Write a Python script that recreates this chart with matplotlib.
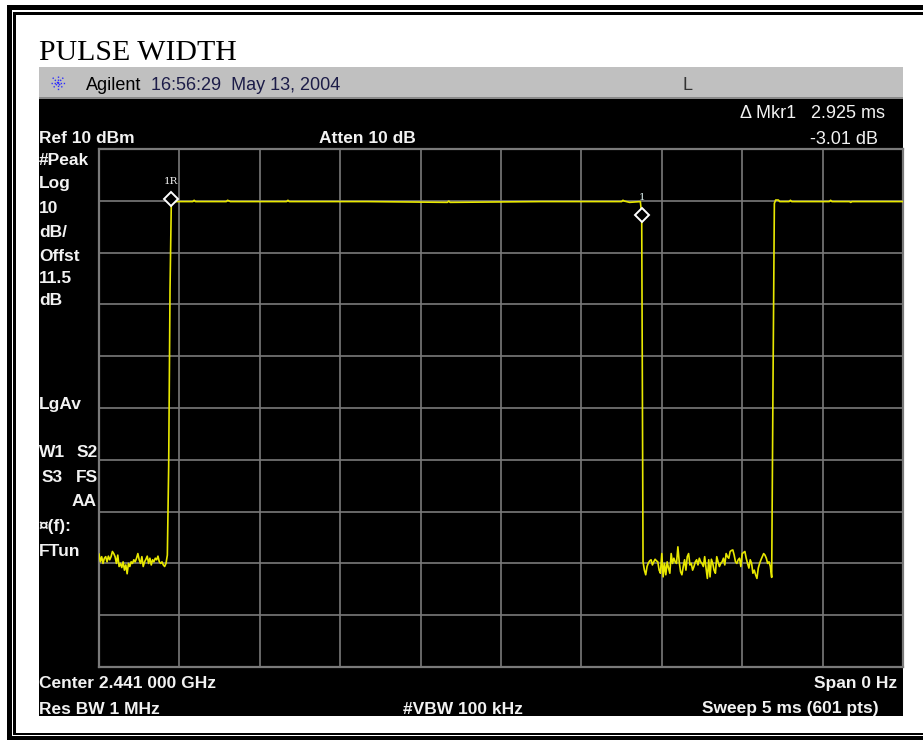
import numpy as np
import matplotlib.pyplot as plt
from matplotlib.patches import Rectangle

plt.rcParams.update({
    "font.family": "Liberation Sans",
})

#%% Instrument settings
sweep_ms = 5.0
n_pts = 601
ref_dbm = 10.0
db_per_div = 10.0
mkr_delta_db = -3.01

#%% Trace data (dBm)
# noise floor ahead of the first burst, samples 0..51
noise_a = [-68.2, -69.7, -68.7, -70.0, -69.0, -68.7, -69.7, -68.6, -69.3, -68.7,
           -67.7, -68.1, -68.7, -70.0, -68.4, -70.6, -70.0, -70.8, -69.7, -71.3,
           -70.3, -72.0, -70.0, -70.6, -69.7, -70.0, -69.3, -69.7, -69.0, -68.1,
           -69.3, -70.0, -68.7, -70.6, -69.7, -69.2, -68.6, -70.0, -69.0, -70.3,
           -69.3, -69.7, -69.0, -69.3, -68.6, -69.7, -70.0, -69.7, -70.3, -70.6,
           -70.0, -68.4]
rise_a_idx = [52, 53]
rise_a_dbm = [-51.2, -17.2]

# burst plateau (sparse vertices, trace is flat in between)
plat_a_idx = [54, 55, 70, 71, 72, 95, 96, 98, 140, 141, 142, 200,
              260, 261, 262, 330, 390, 391, 392, 396, 404]
plat_a_dbm = [0.3, -0.15, -0.15, 0.1, -0.15, -0.15, 0.1, -0.15, -0.15, 0.1, -0.15, -0.15,
              -0.3, -0.05, -0.3, -0.15, -0.15, 0.1, -0.05, -0.3, -0.15]

mkr1r_idx = 54
mkr1_idx = 405

# noise floor between bursts, samples 406..502
noise_b = [-69.7, -71.3, -72.2, -70.6, -69.9, -69.5, -69.3, -70.3, -69.7, -69.2,
           -69.5, -69.7, -71.3, -71.9, -68.1, -72.6, -70.0, -72.2, -69.7, -70.9,
           -71.9, -68.1, -70.0, -69.0, -69.7, -70.0, -66.8, -69.7, -71.6, -72.2,
           -70.6, -69.3, -71.3, -68.7, -68.1, -70.3, -70.0, -71.3, -70.6, -69.7,
           -69.3, -70.3, -69.0, -69.7, -70.0, -70.6, -68.7, -70.9, -72.9, -69.3,
           -72.6, -69.2, -70.0, -71.3, -71.9, -68.7, -69.7, -70.6, -70.0, -69.7,
           -69.0, -70.3, -68.1, -68.7, -69.0, -67.7, -67.5, -67.4, -68.4, -69.7,
           -70.0, -69.3, -69.0, -70.6, -68.1, -67.9, -67.7, -69.0, -70.0, -70.9,
           -69.3, -70.0, -71.9, -71.3, -72.2, -72.9, -70.9, -70.0, -69.3, -68.7,
           -68.1, -68.4, -69.0, -70.0, -69.7, -70.6, -72.7]
rise_b_idx = [503, 504]
rise_b_dbm = [-35.0, -0.5]

plat_b_idx = [505, 507, 508, 515, 516, 517, 545, 546, 547,
              560, 561, 562, 580, 600]
plat_b_dbm = [0.15, 0.15, -0.15, -0.15, 0.1, -0.15, -0.15, 0.1, -0.15,
              -0.15, -0.3, -0.15, -0.15, -0.15]

#%% Assemble trace
mkr1r_dbm = plat_a_dbm[plat_a_idx.index(mkr1r_idx)]
mkr1_dbm = mkr1r_dbm + mkr_delta_db

idx = (list(range(0, len(noise_a))) + rise_a_idx + plat_a_idx + [mkr1_idx]
       + list(range(406, 406 + len(noise_b))) + rise_b_idx + plat_b_idx)
lvl = noise_a + rise_a_dbm + plat_a_dbm + [mkr1_dbm] + noise_b + rise_b_dbm + plat_b_dbm

dt = sweep_ms / (n_pts - 1)
t = np.array(idx) * dt
lvl = np.array(lvl)
t_1r = mkr1r_idx * dt
t_1 = mkr1_idx * dt

#%% Figure
W, H = 923, 740
fig = plt.figure(figsize=(W / 100, H / 100), dpi=100)
fig.patch.set_facecolor("white")

# pixel-space layer for frame, panel and annotations
bg = fig.add_axes([0, 0, 1, 1])
bg.set_xlim(0, W)
bg.set_ylim(H, 0)
bg.axis("off")

# double border
for (x, y, w, h) in [(7, 5, W - 7, 5), (13, 12, W - 13, 3),
                     (7, 5, 5, 733), (13, 12, 2.5, 722),
                     (13, 732.5, W - 13, 2), (7, 736, W - 7, 4)]:
    bg.add_patch(Rectangle((x, y), w, h, color="black", lw=0))

bg.text(39, 60, "PULSE WIDTH", family="Liberation Serif", fontsize=21.5,
        color="black", va="baseline")

# header bar and screen
bg.add_patch(Rectangle((39, 67), 864, 31, color="#c0c0c0", lw=0))
bg.add_patch(Rectangle((39, 97), 864, 1.5, color="#8a8a8a", lw=0))
bg.add_patch(Rectangle((39, 98.5), 864, 617.5, color="black", lw=0))

# agilent spark logo
cx, cy = 58, 83
for a in np.arange(0, np.pi, np.pi / 4):
    dx, dy = 7.5 * np.cos(a), 7.5 * np.sin(a)
    bg.plot([cx - dx, cx + dx], [cy - dy, cy + dy], color="#2b2bff", lw=1.0, ls=(0, (1, 1.2)))
bg.text(86, 90, "Agilent", fontsize=13, color="black", va="baseline")
bg.text(151, 90, "16:56:29  May 13, 2004", fontsize=13, color="#1c1c48", va="baseline")
bg.text(687, 90, "L", fontsize=13, color="#333333", va="baseline", ha="center")

fg = "#f2f2f2"
bold = dict(fontsize=12.5, fontweight="bold", color=fg, va="baseline")
reg = dict(fontsize=13, color=fg, va="baseline")

bg.text(39, 143, "Ref 10 dBm", **bold)
bg.text(319, 143, "Atten 10 dB", **bold)
bg.text(740, 118, "\u0394 Mkr1", **reg)
bg.text(885, 118, f"{(mkr1_idx - mkr1r_idx) * dt:.3f} ms", ha="right", **reg)
bg.text(878, 144, f"{mkr_delta_db:.2f} dB", ha="right", **reg)

side = [(39, 165, "#Peak"), (39, 188, "Log"), (39, 213, "10"), (39, 237, "dB/"),
        (39, 261, "Offst"), (39, 283, "11.5"), (39, 305, "dB"), (39, 409.5, "LgAv"),
        (39, 457, "W1"), (76.7, 457, "S2"), (41.7, 481.5, "S3"), (75.7, 481.5, "FS"),
        (39, 531.5, "\u00a4(f):"), (39, 555.5, "FTun")]
for x, y, s in side:
    bg.text(x, y, s, **bold)
bg.text(97, 506.5, "AA", ha="right", **bold)

bg.text(39, 688, "Center 2.441 000 GHz", **bold)
bg.text(897, 688, "Span 0 Hz", ha="right", **bold)
bg.text(39, 713.5, "Res BW 1 MHz", **bold)
bg.text(403, 713.5, "#VBW 100 kHz", **bold)
bg.text(879, 713.5, "Sweep 5 ms (601 pts)", ha="right", **bold)

#%% Graticule and trace
ax = fig.add_axes([99 / W, 1 - 667 / H, 804 / W, 518 / H])
ax.set_facecolor("black")
ax.set_xlim(0, sweep_ms)
ax.set_ylim(ref_dbm - 10 * db_per_div, ref_dbm)
ax.set_xticks(np.arange(0, sweep_ms + 0.01, sweep_ms / 10))
ax.set_yticks(np.arange(ref_dbm - 10 * db_per_div, ref_dbm + 0.1, db_per_div))
ax.tick_params(length=0, labelbottom=False, labelleft=False)
ax.grid(True, color="#7a7a7a", lw=1.2)
for sp in ax.spines.values():
    sp.set_color("#7a7a7a")
    sp.set_linewidth(1.6)

ax.plot(t, lvl, color="#e8e800", lw=1.2, zorder=3)

# markers
ax.plot([t_1r, t_1], [mkr1r_dbm, mkr1_dbm], ls="none", marker="D", ms=7,
        mfc="black", mec="white", mew=1.4, zorder=4)
ax.annotate("1R", (t_1r, mkr1r_dbm), xytext=(0, 17.5), textcoords="offset pixels",
            ha="center", va="center", fontsize=7.5, family="DejaVu Serif", color=fg)
ax.annotate("1", (t_1, mkr1_dbm), xytext=(0, 17.5), textcoords="offset pixels",
            ha="center", va="center", fontsize=7.5, family="DejaVu Serif", color="#d8ecec")

fig.savefig("out.png", dpi=100)
